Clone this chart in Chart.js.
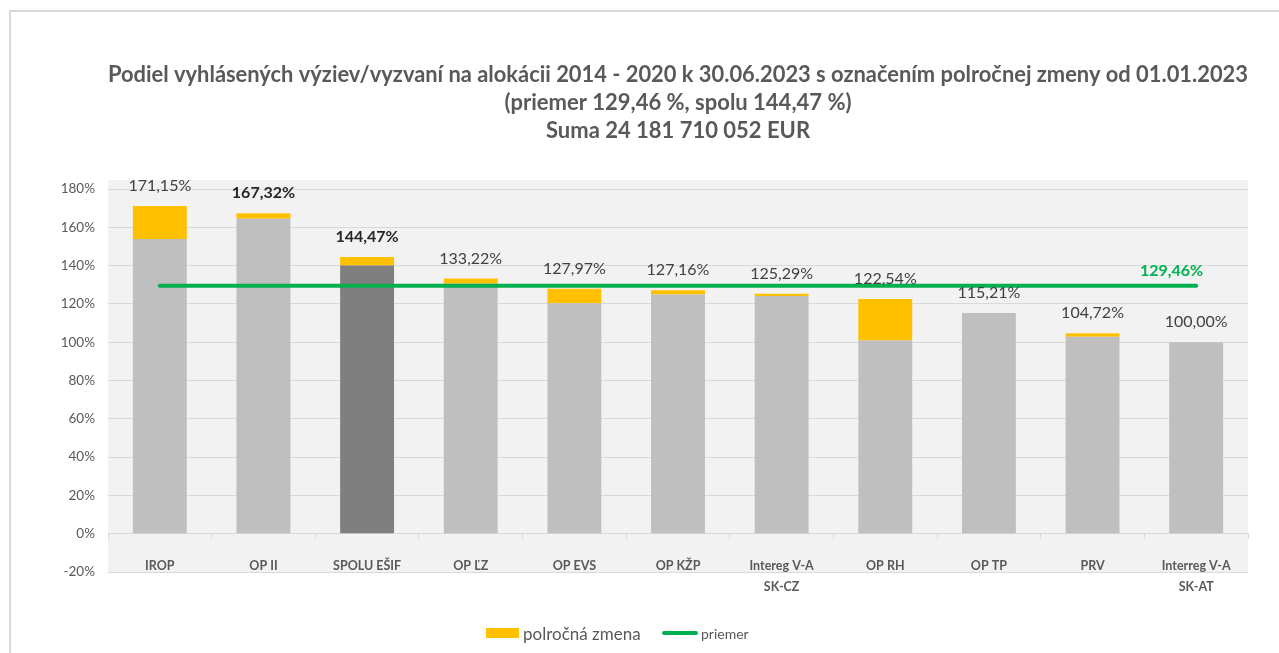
<!DOCTYPE html>
<html>
<head>
<meta charset="utf-8">
<script src="https://cdn.jsdelivr.net/npm/chart.js@4/dist/chart.umd.min.js"></script>
<style>
  html, body { margin: 0; padding: 0; background: #fff; overflow: hidden; }
  #wrap { position: relative; width: 1279px; height: 653px; }
  #frame { position: absolute; left: 9px; top: 10px; width: 1300px; height: 700px; border: 2px solid #d9d9d9; box-sizing: border-box; }
  #chart { position: absolute; left: 0; top: 0; }
  .legend { position: absolute; top: 623px; height: 20px; display: flex; align-items: center; font-family: Lato, sans-serif; color: #595959; }
  .legend .box { width: 33px; height: 10px; background: #ffc000; margin-right: 4px; }
  .legend .line { width: 36px; height: 4px; border-radius: 2px; background: #00b050; margin-right: 3px; }
</style>
</head>
<body>
<div id="wrap">
  <div id="frame"></div>
  <canvas id="chart" width="1279" height="653"></canvas>
  <div class="legend" style="left:486px;font-size:17px"><span class="box"></span>polročná zmena</div>
  <div class="legend" style="left:662px;font-size:14px"><span class="line"></span>priemer</div>
</div>
<script>
'use strict';

// ===== DATA =====
const categories = [
  'IROP', 'OP II', 'SPOLU EŠIF', 'OP ĽZ', 'OP EVS', 'OP KŽP',
  ['Intereg V-A', 'SK-CZ'], 'OP RH', 'OP TP', 'PRV', ['Interreg V-A', 'SK-AT']
];
const baseValues   = [153.90, 164.40, 140.10, 130.50, 120.30, 124.90, 124.10, 100.90, 115.21, 102.90, 100.00];
const changeValues = [17.25, 2.92, 4.37, 2.72, 7.67, 2.26, 1.19, 21.64, 0, 1.82, 0];
const totalValues  = [171.15, 167.32, 144.47, 133.22, 127.97, 127.16, 125.29, 122.54, 115.21, 104.72, 100.00];
const averageValue = 129.46;
const yTicks = [-20, 0, 20, 40, 60, 80, 100, 120, 140, 160, 180];

const titleLines = [
  'Podiel vyhlásených výziev/vyzvaní na alokácii 2014 - 2020 k 30.06.2023 s označením polročnej zmeny od 01.01.2023',
  '(priemer 129,46 %, spolu 144,47 %)',
  'Suma 24 181 710 052 EUR'
];

const fmt = v => v.toFixed(2).replace('.', ',') + '%';
const FONT = 'Lato, sans-serif';
const boldLabels = [1, 2];

// ===== PLUGINS =====
const plotBg = {
  id: 'plotBg',
  beforeDraw(chart) {
    const { ctx, chartArea: a } = chart;
    ctx.save();
    ctx.fillStyle = '#f2f2f2';
    ctx.fillRect(a.left, a.top - 9, a.right - a.left, a.bottom - a.top + 9);
    ctx.restore();
  }
};

const valueLabels = {
  id: 'valueLabels',
  afterDatasetsDraw(chart) {
    const { ctx } = chart;
    const top = chart.getDatasetMeta(2);
    ctx.save();
    ctx.textAlign = 'center';
    ctx.textBaseline = 'middle';
    top.data.forEach((el, i) => {
      const bold = boldLabels.includes(i);
      ctx.font = (bold ? 'bold ' : '') + '16px ' + FONT;
      ctx.fillStyle = bold ? '#262626' : '#404040';
      ctx.fillText(fmt(totalValues[i]), el.x, el.y - 20);
    });
    const line = chart.getDatasetMeta(0).data;
    const last = line[line.length - 1];
    ctx.font = 'bold 16px ' + FONT;
    ctx.fillStyle = '#00b050';
    ctx.textAlign = 'right';
    ctx.fillText(fmt(averageValue), last.x + 7, last.y - 15);
    ctx.restore();
  }
};

// ===== CHART =====
new Chart(document.getElementById('chart'), {
  type: 'bar',
  data: {
    labels: categories,
    datasets: [
      {
        type: 'line',
        label: 'priemer',
        data: categories.map(() => averageValue),
        borderColor: '#00b050',
        borderWidth: 4,
        borderCapStyle: 'round',
        pointRadius: 0,
        stack: 'avg',
        order: 0
      },
      {
        label: 'base',
        data: baseValues,
        backgroundColor: categories.map((_, i) => i === 2 ? '#7f7f7f' : '#bfbfbf'),
        stack: 'bars',
        order: 1
      },
      {
        label: 'polročná zmena',
        data: changeValues,
        backgroundColor: '#ffc000',
        stack: 'bars',
        order: 1
      }
    ]
  },
  options: {
    responsive: false,
    animation: false,
    layout: { padding: { left: 48, right: 31, top: 0, bottom: 81 } },
    datasets: { bar: { barPercentage: 0.52, categoryPercentage: 1 } },
    plugins: {
      legend: { display: false },
      tooltip: { enabled: false },
      title: {
        display: true,
        fullSize: false,
        text: titleLines,
        color: '#595959',
        font: { family: FONT, size: 22, weight: 'bold', lineHeight: 28 / 22 },
        padding: { top: 61, bottom: 44 }
      }
    },
    scales: {
      x: {
        stacked: true,
        position: { y: 0 },
        grid: { drawOnChartArea: false, drawTicks: true, tickLength: 5, color: '#d9d9d9', offset: true },
        border: { display: true, color: '#d9d9d9' },
        ticks: {
          color: '#595959',
          padding: 17,
          maxRotation: 0,
          autoSkip: false,
          font: { family: FONT, size: 12.5, weight: 'bold', lineHeight: 1.65 }
        }
      },
      y: {
        stacked: true,
        min: -20,
        max: 180,
        afterFit(scale) { scale.width = 60; },
        afterBuildTicks(scale) { scale.ticks = yTicks.map(v => ({ value: v })); },
        grid: { color: '#d9d9d9', drawTicks: false },
        border: { display: false },
        ticks: {
          color: '#595959',
          padding: 13,
          font: { family: FONT, size: 13.5 },
          callback: v => v + '%'
        }
      }
    }
  },
  plugins: [plotBg, valueLabels]
});
</script>
</body>
</html>
